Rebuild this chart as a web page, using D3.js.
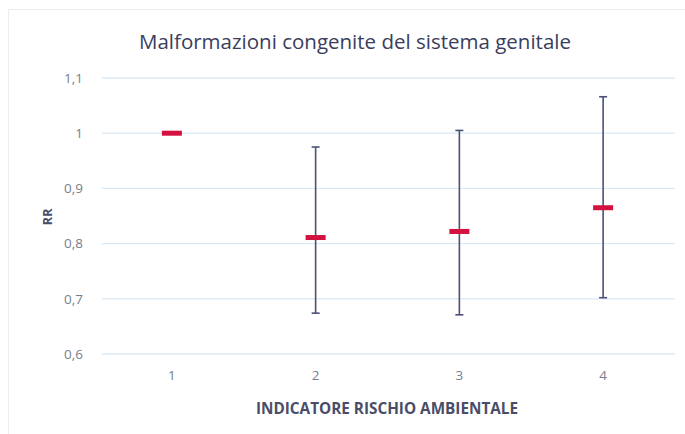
<!DOCTYPE html>
<html>
<head>
  <meta charset="utf-8">
  <script src="https://d3js.org/d3.v7.min.js"></script>
  <style>
    body {
      margin: 0;
      background: #fff;
    }

    text {
      font-family: "Open Sans", "DejaVu Sans", sans-serif;
    }
  </style>
</head>

<body>
  <svg id="chart" width="685" height="434"></svg>

  <script>
    // indicatore di rischio ambientale
    const categories = ["1", "2", "3", "4"];
    // rischio relativo (stima puntuale)
    const rr = [1, 0.811, 0.822, 0.865];
    // intervallo di confidenza (classe 1 = riferimento, nessun intervallo)
    const ciLow = [null, 0.674, 0.671, 0.702];
    const ciHigh = [null, 0.975, 1.005, 1.066];
    const yTicks = [0.6, 0.7, 0.8, 0.9, 1, 1.1];

    const data = categories.map((c, i) => ({
      cat: c,
      rr: rr[i],
      lo: ciLow[i],
      hi: ciHigh[i]
    }));

    const svg = d3.select("#chart");

    const margin = { top: 78, right: 10, bottom: 80, left: 100 },
      width = 685 - margin.left - margin.right,
      height = 434 - margin.top - margin.bottom;

    // faint frame of the scanned figure
    svg.append("rect")
      .attr("x", 8.5).attr("y", 9.5)
      .attr("width", 690).attr("height", 430)
      .attr("fill", "none")
      .attr("stroke", "#ececec")
      .attr("stroke-width", 1);

    const g = svg.append("g")
      .attr("transform", "translate(" + margin.left + "," + margin.top + ")");

    let x = d3.scaleBand()
      .domain(categories)
      .range([0, width]);

    let y = d3.scaleLinear()
      .domain([0.6, 1.1])
      .range([height, 0]);

    // gridlines
    g.append("g")
      .selectAll("line")
      .data(yTicks)
      .join("line")
      .attr("x1", 2)
      .attr("x2", width)
      .attr("y1", d => y(d))
      .attr("y2", d => y(d))
      .attr("stroke", "#dae9f4")
      .attr("stroke-width", 1.3);

    // y axis labels
    const fmt = d => d3.format(".1~f")(d).replace(".", ",");
    const yAxis = g.append("g")
      .call(d3.axisLeft(y).tickValues(yTicks).tickFormat(fmt).tickSize(0).tickPadding(17));
    yAxis.select(".domain").remove();
    yAxis.selectAll("text")
      .attr("fill", "#7a7e8c")
      .style("font-size", "13.5px");

    // x axis labels
    const xAxis = g.append("g")
      .attr("transform", "translate(0," + height + ")")
      .call(d3.axisBottom(x).tickSize(0).tickPadding(16));
    xAxis.select(".domain").remove();
    xAxis.selectAll("text")
      .attr("fill", "#7a7e8c")
      .style("font-size", "13.5px");

    // error bars
    const withCi = data.filter(d => d.lo !== null);
    const cx = d => x(d.cat) + x.bandwidth() / 2;

    g.append("g")
      .selectAll("line")
      .data(withCi)
      .join("line")
      .attr("x1", cx).attr("x2", cx)
      .attr("y1", d => y(d.lo))
      .attr("y2", d => y(d.hi))
      .attr("stroke", "#4c5079")
      .attr("stroke-width", 1.6);

    ["lo", "hi"].forEach(k => {
      g.append("g")
        .selectAll("line")
        .data(withCi)
        .join("line")
        .attr("x1", d => cx(d) - 4)
        .attr("x2", d => cx(d) + 4)
        .attr("y1", d => y(d[k]))
        .attr("y2", d => y(d[k]))
        .attr("stroke", "#4c5079")
        .attr("stroke-width", 1.6);
    });

    // RR markers
    g.append("g")
      .selectAll("rect")
      .data(data)
      .join("rect")
      .attr("x", d => cx(d) - 10)
      .attr("y", d => y(d.rr) - 2.5)
      .attr("width", 20)
      .attr("height", 5)
      .attr("fill", "#d3123f");

    // title
    svg.append("text")
      .attr("x", 355)
      .attr("y", 49)
      .attr("text-anchor", "middle")
      .attr("fill", "#3a3d5c")
      .style("font-size", "20.5px")
      .text("Malformazioni congenite del sistema genitale");

    // axis titles
    svg.append("text")
      .attr("x", 387)
      .attr("y", 414)
      .attr("text-anchor", "middle")
      .attr("fill", "#4a4d68")
      .style("font-size", "15.3px")
      .style("font-weight", "bold")
      .text("INDICATORE RISCHIO AMBIENTALE");

    svg.append("text")
      .attr("transform", "translate(52,217)rotate(-90)")
      .attr("text-anchor", "middle")
      .attr("fill", "#4a4d68")
      .style("font-size", "13px")
      .style("font-weight", "bold")
      .text("RR");
  </script>
</body>

</html>
